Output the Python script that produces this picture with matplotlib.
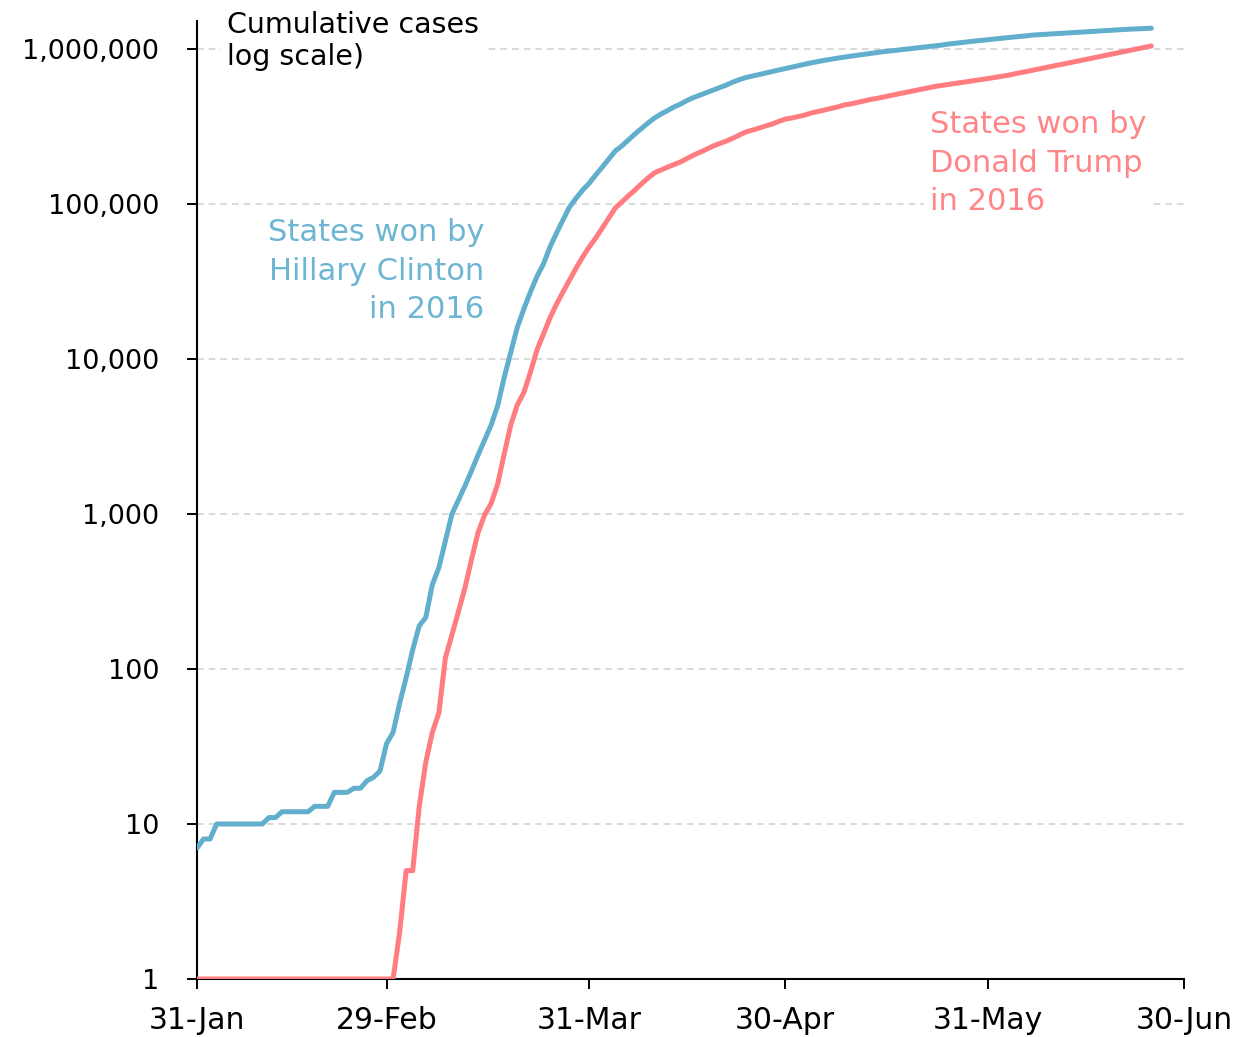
import numpy as np
import pandas as pd
import matplotlib
matplotlib.use("Agg")
from matplotlib import pyplot as plt
import matplotlib.dates as mdates
from matplotlib.ticker import FixedLocator, FuncFormatter

# 日付 (2020-01-31 から毎日)
start = "2020-01-31"

# 累計感染者数 (読み取り値)
clinton = [7, 8, 8, 10, 10, 10, 10, 10, 10, 10, 10, 11, 11, 12, 12, 12, 12, 12, 13, 13,
           13, 16, 16, 16, 17, 17, 19, 20, 22, 33, 39, 60, 88, 133, 190, 215, 350, 450, 670, 1000,
           1230, 1520, 1900, 2400, 3000, 3750, 5000, 7600, 11000, 16000, 21000, 27000, 34000,
           41000, 52700, 64900, 79000, 95800, 109000, 123000, 136000, 154000, 173000, 195000,
           220000, 237000, 259000, 283000, 307000, 333000, 359000, 381000, 401000, 423000,
           442000, 466000, 487000, 505000, 524000, 544000, 565000, 586000, 612000, 635000,
           655000, 670000, 684000, 700000, 716000, 732000, 748000,
           765000, 782000, 798000, 815000, 830000, 845000, 859000, 873000, 886000, 899000,
           911000, 923000, 936000, 949000, 961000,
           971000, 981000, 993000, 1003000, 1015000, 1026000, 1038000, 1050000, 1061000,
           1077000, 1088000, 1101000, 1114000, 1126000, 1136000, 1148000, 1160000, 1172000,
           1184000, 1195000, 1208000, 1218000, 1231000, 1238000, 1246000, 1253000, 1260000,
           1268000, 1276000, 1283000, 1291000, 1298000, 1306000, 1314000, 1322000, 1330000,
           1338000, 1344000, 1350000, 1356000, 1362000]

trump = [1] * 31 + [2, 5, 5, 13, 25, 39, 52, 118, 166, 235, 335, 510, 760, 985, 1170, 1560,
         2440, 3750, 5060, 6070, 8200, 11400, 14500, 18400, 22600, 27100, 32300, 38600,
         45500, 52800, 60300, 70000, 81200, 94300, 103000, 113000, 123000, 135000, 147000,
         159000, 166000, 173000, 180000, 187000, 197000, 207000, 216000, 226000, 237000,
         246000, 255000, 266000, 279000, 292000, 300000, 309000, 319000, 328000, 341000,
         353000, 359000, 367000, 375000, 387000, 395000, 404000, 413000, 423000, 435000,
         442000, 452000, 462000, 472000, 480000, 490000,
         500000, 510000, 520000, 530000, 541000, 552000, 563000, 574000, 582000, 591000,
         600000, 608000, 617000, 626000, 636000, 645000, 655000, 665000, 676000, 690000,
         703000, 717000, 732000, 746000, 761000, 777000, 792000, 807000, 824000, 840000,
         857000, 875000, 892000, 911000, 929000, 948000, 966000, 985000, 1006000, 1026000,
         1046000]

dates_b = pd.date_range(start, periods=len(clinton))
dates_r = pd.date_range(start, periods=len(trump))

# 軸ラベル
xtick_dates = ["2020-01-31", "2020-02-29", "2020-03-31", "2020-04-30", "2020-05-31", "2020-06-30"]
ytick_vals = [1, 10, 100, 1000, 10000, 100000, 1000000]

blue = "#62AFCD"
blue_txt = "#6DB5D2"
red = "#FF7C80"
red_txt = "#FF8589"

plt.rcParams["font.family"] = ["DejaVu Sans"]

fig = plt.figure(figsize=(12.35, 10.37), dpi=100)
ax = fig.add_axes([197 / 1235, 1 - 979 / 1037, 987 / 1235, 958 / 1037])

ax.plot(dates_b, clinton, color=blue, lw=3.6, solid_capstyle="round", solid_joinstyle="round", zorder=3)
ax.plot(dates_r, trump, color=red, lw=3.6, solid_capstyle="round", solid_joinstyle="round", zorder=3)

ax.set_yscale("log")
ax.set_ylim(1, 10 ** (6 + 28 / 155))
ax.set_xlim(pd.Timestamp("2020-01-31"), pd.Timestamp("2020-06-30"))

ax.yaxis.set_major_locator(FixedLocator(ytick_vals))
ax.yaxis.set_minor_locator(FixedLocator([]))
ax.yaxis.set_major_formatter(FuncFormatter(lambda v, p: "{:,}".format(int(round(v)))))
ax.xaxis.set_major_locator(FixedLocator([mdates.date2num(pd.Timestamp(d)) for d in xtick_dates]))
ax.xaxis.set_major_formatter(mdates.DateFormatter("%d-%b"))

ax.tick_params(axis="both", length=7.2, width=1.4, color="black", labelcolor="black")
ax.tick_params(axis="y", pad=20, labelsize=19.5)
ax.tick_params(axis="x", pad=12, labelsize=21.5)
for s in ["top", "right"]:
    ax.spines[s].set_visible(False)
for s in ["left", "bottom"]:
    ax.spines[s].set_linewidth(1.5)

for v in ytick_vals[1:]:
    ax.axhline(v, color="#D3D3D3", lw=1.2, ls=(0, (4, 3)), zorder=1)

ax.text(pd.Timestamp("2020-02-04 14:00"), 10 ** (938 / 155), "Cumulative cases\nlog scale)",
        fontsize=20.5, ha="left", va="center", linespacing=1.22, zorder=2,
        bbox=dict(facecolor="white", edgecolor="none", pad=4))
ax.text(pd.Timestamp("2020-03-15 00:00"), 10 ** (708 / 155), "States won by\nHillary Clinton\nin 2016",
        fontsize=22, color=blue_txt, ha="right", va="center", multialignment="right",
        linespacing=1.4, zorder=2, bbox=dict(facecolor="white", edgecolor="none", pad=4))
ax.text(pd.Timestamp("2020-05-22 03:00"), 10 ** (816 / 155), "States won by\nDonald Trump\nin 2016",
        fontsize=22, color=red_txt, ha="left", va="center", multialignment="left",
        linespacing=1.4, zorder=2, bbox=dict(facecolor="white", edgecolor="none", pad=4))

plt.savefig("out.png", dpi=100)
